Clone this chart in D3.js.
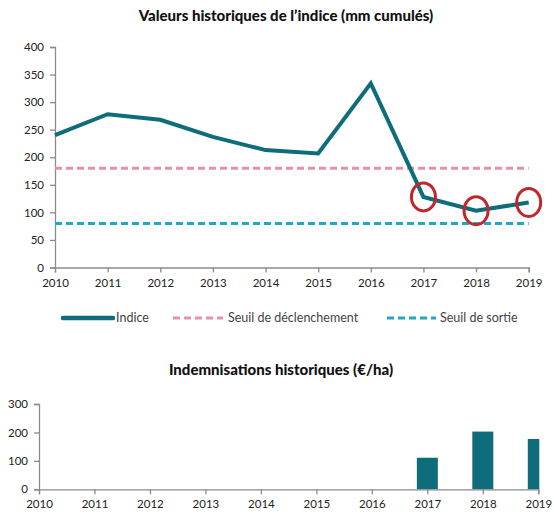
<!DOCTYPE html>
<html><head><meta charset="utf-8">
<script src="https://cdn.jsdelivr.net/npm/d3@7"></script>
<style>
body{margin:0;background:#fff;}
svg{display:block;font-family:Lato, "Open Sans", sans-serif;}
.axis path,.axis line{stroke:#8c8c8c;stroke-width:1.3;}
.axis text{font-size:11.5px;fill:#222;font-family:Lato,sans-serif;}
</style></head><body>
<svg id="c" width="554" height="523"></svg>
<script>
const years = [2010,2011,2012,2013,2014,2015,2016,2017,2018,2019];
const indice = [240,278,268,237,213,207,334,128,103,118];
const seuilDeclenchement = 180;
const seuilSortie = 80;
const highlightYears = [2017,2018,2019];
const indemnisations = [0,0,0,0,0,0,0,111,203,177];
const yTicksTop = [0,50,100,150,200,250,300,350,400];
const yTicksBottom = [0,100,200,300];
const legendLabels = ["Indice","Seuil de déclenchement","Seuil de sortie"];

const teal = "#0f6c7a", pink = "#e890a9", cyan = "#1fa9c2", red = "#c0272d";
const svg = d3.select("#c");

// ---------- Top chart ----------
const x1 = d3.scalePoint().domain(years).range([55, 528.7]);
const y1 = d3.scaleLinear().domain([0,400]).range([267.5, 47]);

svg.append("text").attr("x",286).attr("y",21).attr("text-anchor","middle")
  .style("font-weight","900").style("font-size","15px").style("fill","#111").text("Valeurs historiques de l’indice (mm cumulés)");

const gy1 = svg.append("g").attr("class","axis").attr("transform","translate(55,0)")
  .call(d3.axisLeft(y1).tickValues(yTicksTop).tickSizeOuter(0).tickSize(5).tickPadding(6));
const gx1 = svg.append("g").attr("class","axis").attr("transform","translate(0,267.5)")
  .call(d3.axisBottom(x1).tickSizeOuter(0).tickSize(5).tickPadding(6).tickFormat(d3.format("d")));

svg.append("line").attr("x1",x1(2010)).attr("x2",x1(2019))
  .attr("y1",y1(seuilDeclenchement)).attr("y2",y1(seuilDeclenchement))
  .attr("stroke",pink).attr("stroke-width",3).attr("stroke-dasharray","7,4");
svg.append("line").attr("x1",x1(2010)).attr("x2",x1(2019))
  .attr("y1",y1(seuilSortie)).attr("y2",y1(seuilSortie))
  .attr("stroke",cyan).attr("stroke-width",3).attr("stroke-dasharray","7,4");

svg.append("path").datum(years.map((y,i)=>[y,indice[i]]))
  .attr("d", d3.line().x(d=>x1(d[0])).y(d=>y1(d[1])))
  .attr("fill","none").attr("stroke",teal).attr("stroke-width",4).attr("stroke-linejoin","miter");

svg.selectAll(".hl").data(highlightYears).enter().append("ellipse")
  .attr("cx",d=>x1(d)).attr("cy",d=>y1(indice[years.indexOf(d)]))
  .attr("rx",12).attr("ry",14).attr("fill","none").attr("stroke",red).attr("stroke-width",3);

// legend
const lg = svg.append("g").style("font-size","12.5px").style("fill","#444");
lg.append("line").attr("x1",63).attr("x2",113).attr("y1",318).attr("y2",318).attr("stroke",teal).attr("stroke-width",4.5).attr("stroke-linecap","round");
lg.append("text").attr("x",116).attr("y",322).text(legendLabels[0]);
lg.append("line").attr("x1",173).attr("x2",223).attr("y1",318).attr("y2",318).attr("stroke",pink).attr("stroke-width",3).attr("stroke-dasharray","7,4");
lg.append("text").attr("x",228).attr("y",322).text(legendLabels[1]);
lg.append("line").attr("x1",387).attr("x2",436).attr("y1",318).attr("y2",318).attr("stroke",cyan).attr("stroke-width",3).attr("stroke-dasharray","7,4");
lg.append("text").attr("x",440).attr("y",322).text(legendLabels[2]);

// ---------- Bottom chart ----------
const x2 = d3.scalePoint().domain(years).range([39, 538.3]);
const y2 = d3.scaleLinear().domain([0,300]).range([489.3, 404]);

svg.append("text").attr("x",281).attr("y",375).attr("text-anchor","middle")
  .style("font-weight","900").style("font-size","15px").style("fill","#111").text("Indemnisations historiques (€/ha)");

svg.append("defs").append("clipPath").attr("id","clip2").append("rect")
  .attr("x",39).attr("y",380).attr("width",538.3-39+1).attr("height",120);

const bw = 21;
svg.append("g").attr("clip-path","url(#clip2)").selectAll("rect").data(years.map((y,i)=>({y,v:indemnisations[i]})).filter(d=>d.v>0))
  .enter().append("rect")
  .attr("x",d=>x2(d.y)-bw/2).attr("width",bw)
  .attr("y",d=>y2(d.v)).attr("height",d=>y2(0)-y2(d.v)).attr("fill",teal);

svg.append("g").attr("class","axis").attr("transform","translate(39,0)")
  .call(d3.axisLeft(y2).tickValues(yTicksBottom).tickSizeOuter(0).tickSize(5).tickPadding(6));
svg.append("g").attr("class","axis").attr("transform","translate(0,489.3)")
  .call(d3.axisBottom(x2).tickSizeOuter(0).tickSize(5).tickPadding(6).tickFormat(d3.format("d")));
</script>
</body></html>
